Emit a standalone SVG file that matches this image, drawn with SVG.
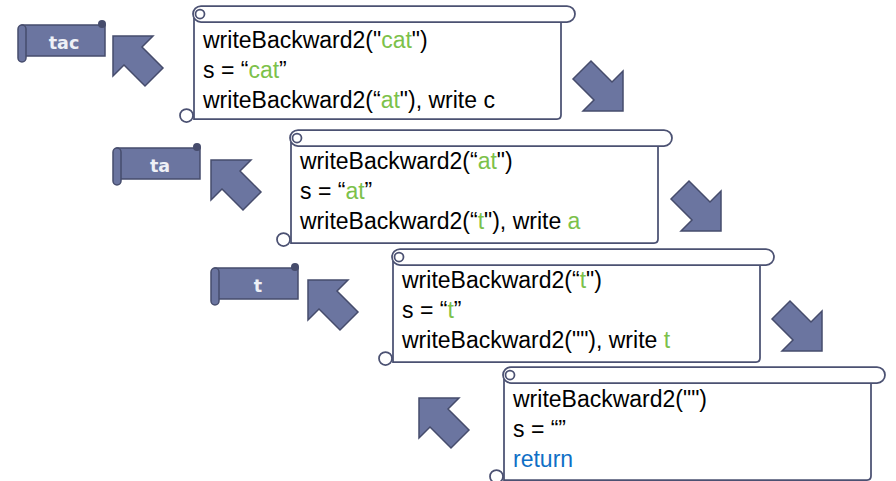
<svg xmlns="http://www.w3.org/2000/svg" width="896" height="481" viewBox="0 0 896 481">
<style>
.ln{stroke:#4b5172;stroke-width:1.75;fill:none}
.code{font-family:"Liberation Sans",Arial,sans-serif;font-size:23px;fill:#000}
.g{fill:#7cc14a}
.b{fill:#0f6fc6}
.lbl{font-family:"DejaVu Sans",sans-serif;font-weight:bold;font-size:17.5px;fill:#eef0f6;text-anchor:middle}
.blk{fill:#6b75a0;stroke:#464c6c;stroke-width:1.5;stroke-linejoin:miter}
</style>
<defs>
<g id="scroll">
  <rect x="0" y="8" width="367" height="105" fill="#fff"/>
  <path d="M0,12 V113 H363 Q367,113 367,109 V16" class="ln"/>
  <rect x="-1" y="0" width="382" height="16" rx="8" fill="#fff" class="ln"/>
  <circle cx="6" cy="8" r="4.5" fill="#fff" class="ln"/>
  <circle cx="-7.5" cy="109.5" r="6.5" fill="#b4b8c8" class="ln"/>
  <circle cx="-5.5" cy="109" r="2.6" fill="#fff"/>
</g>
<g id="label">
  <rect x="0" y="0" width="83" height="31" class="blk"/>
  <circle cx="80" cy="-1" r="4" fill="#464c6c"/>
  <rect x="-4" y="0" width="8" height="37" rx="4" class="blk"/>
</g>
<polygon id="upleft" points="0,0 40,0 29,11 50,32 32,50 11,29 0,40" class="blk"/>
<polygon id="downright" points="0,0 -40,0 -29,-11 -50,-32 -32,-50 -11,-29 0,-40" class="blk"/>
</defs>

<g id="connectors">
  <use href="#upleft" x="113" y="36"/>
  <use href="#upleft" x="211" y="160"/>
  <use href="#upleft" x="308" y="280"/>
  <use href="#upleft" x="419" y="398"/>
  <use href="#downright" x="623" y="111"/>
  <use href="#downright" x="721" y="231"/>
  <use href="#downright" x="822" y="351"/>
</g>

<g id="node-tac">
  <use href="#label" x="22" y="25"/>
  <text class="lbl" x="64" y="49">tac</text>
</g>
<g id="node-ta">
  <use href="#label" x="117" y="148"/>
  <text class="lbl" x="160" y="172">ta</text>
</g>
<g id="node-t">
  <use href="#label" x="215" y="268"/>
  <text class="lbl" x="258" y="292">t</text>
</g>

<g id="node-s1">
  <use href="#scroll" x="194" y="6"/>
  <text class="code" x="203" y="48">writeBackward2("<tspan class="g">cat</tspan>")</text>
  <text class="code" x="203" y="78">s = “<tspan class="g">cat</tspan>”</text>
  <text class="code" x="203" y="108">writeBackward2(“<tspan class="g">at</tspan>"), write c</text>
</g>
<g id="node-s2">
  <use href="#scroll" x="291" y="130"/>
  <text class="code" x="300" y="169">writeBackward2(“<tspan class="g">at</tspan>")</text>
  <text class="code" x="300" y="199">s = “<tspan class="g">at</tspan>”</text>
  <text class="code" x="300" y="229">writeBackward2(“<tspan class="g">t</tspan>"), write <tspan class="g">a</tspan></text>
</g>
<g id="node-s3">
  <use href="#scroll" x="393" y="249"/>
  <text class="code" x="402" y="288">writeBackward2(“<tspan class="g">t</tspan>")</text>
  <text class="code" x="402" y="318">s = “<tspan class="g">t</tspan>”</text>
  <text class="code" x="402" y="348">writeBackward2(""), write <tspan class="g">t</tspan></text>
</g>
<g id="node-s4">
  <use href="#scroll" x="504" y="367"/>
  <text class="code" x="513" y="407">writeBackward2("")</text>
  <text class="code" x="513" y="437">s = “”</text>
  <text class="code b" x="513" y="467">return</text>
</g>
</svg>
